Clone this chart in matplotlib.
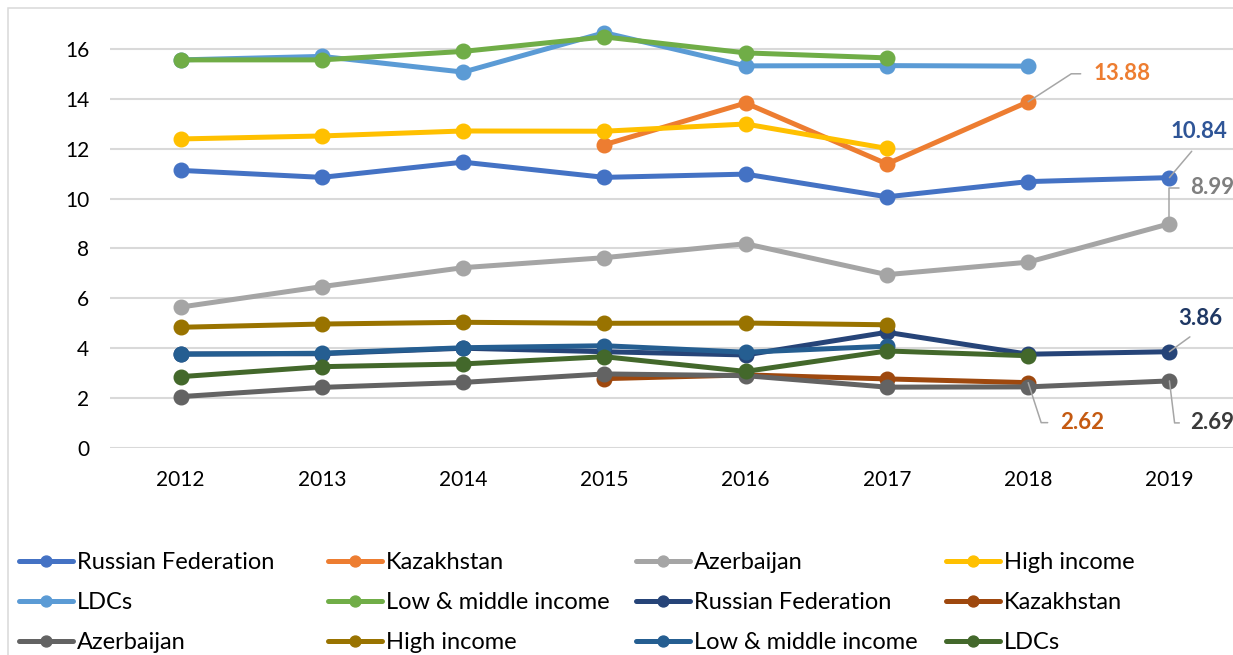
import numpy as np
import matplotlib.pyplot as plt
from matplotlib.patches import Rectangle

plt.rcParams['font.family'] = ['Lato', 'DejaVu Sans']

nan = np.nan
years = [2012, 2013, 2014, 2015, 2016, 2017, 2018, 2019]

# first group of series
rus = [11.13, 10.85, 11.46, 10.85, 10.98, 10.07, 10.68, 10.84]
kaz = [nan, nan, nan, 12.16, 13.83, 11.39, 13.88, nan]
aze = [5.65, 6.47, 7.23, 7.63, 8.19, 6.95, 7.45, 8.99]
high = [12.39, 12.51, 12.71, 12.70, 12.99, 12.01, nan, nan]
ldcs = [15.56, 15.70, 15.07, 16.65, 15.32, 15.33, 15.31, nan]
lowmid = [15.56, 15.56, 15.90, 16.48, 15.84, 15.64, nan, nan]

# second group of series
rus2 = [3.77, 3.78, 4.00, 3.86, 3.73, 4.64, 3.76, 3.86]
kaz2 = [nan, nan, nan, 2.78, 2.93, 2.77, 2.62, nan]
aze2 = [2.06, 2.43, 2.63, 2.97, 2.90, 2.44, 2.45, 2.69]
high2 = [4.84, 4.97, 5.04, 5.00, 5.01, 4.94, nan, nan]
lowmid2 = [3.76, 3.80, 4.02, 4.10, 3.84, 4.08, nan, nan]
ldcs2 = [2.86, 3.26, 3.37, 3.66, 3.07, 3.89, 3.70, nan]

names = ['Russian Federation', 'Kazakhstan', 'Azerbaijan', 'High income',
         'LDCs', 'Low & middle income', 'Russian Federation', 'Kazakhstan',
         'Azerbaijan', 'High income', 'Low & middle income', 'LDCs']
series = [rus, kaz, aze, high, ldcs, lowmid, rus2, kaz2, aze2, high2, lowmid2, ldcs2]
colors = ['#4472C4', '#ED7D31', '#A5A5A5', '#FFC000', '#5B9BD5', '#70AD47',
          '#264478', '#9E480E', '#636363', '#997300', '#255E91', '#43682B']

fig = plt.figure(figsize=(12.33, 6.55), dpi=100)
ax = fig.add_axes([110/1233, 207/655, 1123/1233, 439/655])

handles = []
for vals, col, name in zip(series, colors, names):
    h, = ax.plot(years, vals, color=col, lw=3.6, marker='o', ms=10.5,
                 solid_capstyle='round', label=name)
    handles.append(h)

ax.set_xlim(2011.5, 2019.45)
ax.set_ylim(0, 17.6)
ax.set_yticks(np.arange(0, 17, 2))
ax.set_xticks(years)
ax.grid(axis='y', color='#D9D9D9', lw=1.5)
ax.set_axisbelow(True)
for s in ax.spines.values():
    s.set_visible(False)
ax.tick_params(length=0, labelsize=15, colors='black')
ax.tick_params(axis='x', pad=16)
ax.tick_params(axis='y', pad=15)

# data labels with leader lines
lead = '#A6A6A6'
fs = 16
ax.annotate('13.88', xy=(2018, 13.88), xytext=(65, 28), textcoords='offset pixels',
            ha='left', va='center', color='#ED7D31', fontsize=fs, fontweight='bold',
            arrowprops=dict(arrowstyle='-', color=lead, lw=1.1, shrinkA=7, shrinkB=0,
                            relpos=(0, 0.5), connectionstyle='angle,angleA=0,angleB=33,rad=0'))
ax.annotate('10.84', xy=(2019, 10.84), xytext=(30, 46), textcoords='offset pixels',
            ha='center', va='center', color='#2F5597', fontsize=fs, fontweight='bold',
            arrowprops=dict(arrowstyle='-', color=lead, lw=1.1, shrinkA=6, shrinkB=0,
                            relpos=(0.5, 0)))
ax.annotate('8.99', xy=(2019, 8.99), xytext=(21, 36), textcoords='offset pixels',
            ha='left', va='center', color='#7F7F7F', fontsize=fs, fontweight='bold',
            arrowprops=dict(arrowstyle='-', color=lead, lw=1.1, shrinkA=6, shrinkB=0,
                            relpos=(0, 0.5), connectionstyle='angle,angleA=0,angleB=90,rad=0'))
ax.annotate('3.86', xy=(2019, 3.86), xytext=(31, 33), textcoords='offset pixels',
            ha='center', va='center', color='#1F3864', fontsize=fs, fontweight='bold',
            arrowprops=dict(arrowstyle='-', color=lead, lw=1.1, shrinkA=6, shrinkB=0,
                            relpos=(0.5, 0)))
ax.annotate('2.62', xy=(2018, 2.62), xytext=(32, -40), textcoords='offset pixels',
            ha='left', va='center', color='#C55A11', fontsize=fs, fontweight='bold',
            arrowprops=dict(arrowstyle='-', color=lead, lw=1.1, shrinkA=7, shrinkB=0,
                            relpos=(0, 0.5), connectionstyle='angle,angleA=0,angleB=-72,rad=0'))
ax.annotate('2.69', xy=(2019, 2.69), xytext=(21, -42), textcoords='offset pixels',
            ha='left', va='center', color='#3A3A3A', fontsize=fs, fontweight='bold',
            arrowprops=dict(arrowstyle='-', color=lead, lw=1.1, shrinkA=6, shrinkB=0,
                            relpos=(0, 0.5), connectionstyle='angle,angleA=0,angleB=-83,rad=0'))

# legend: 4 columns, filled row by row
col_x = [19, 328, 636, 946]
for c in range(4):
    hs = [handles[c + 4*r] for r in range(3)]
    fig.legend(hs, [h.get_label() for h in hs], loc='upper left',
               bbox_to_anchor=(col_x[c]/1233, 1 - 552/655), frameon=False,
               fontsize=17, handlelength=2.3, handletextpad=0.17, borderpad=0,
               borderaxespad=0, labelspacing=0.81, markerscale=0.75)

fig.patches.append(Rectangle((8/1233, -0.1), 1.2, 1.1 - 8/655, transform=fig.transFigure,
                             fill=False, edgecolor='#D9D9D9', lw=1.1))

fig.savefig('out.png', dpi=100)
